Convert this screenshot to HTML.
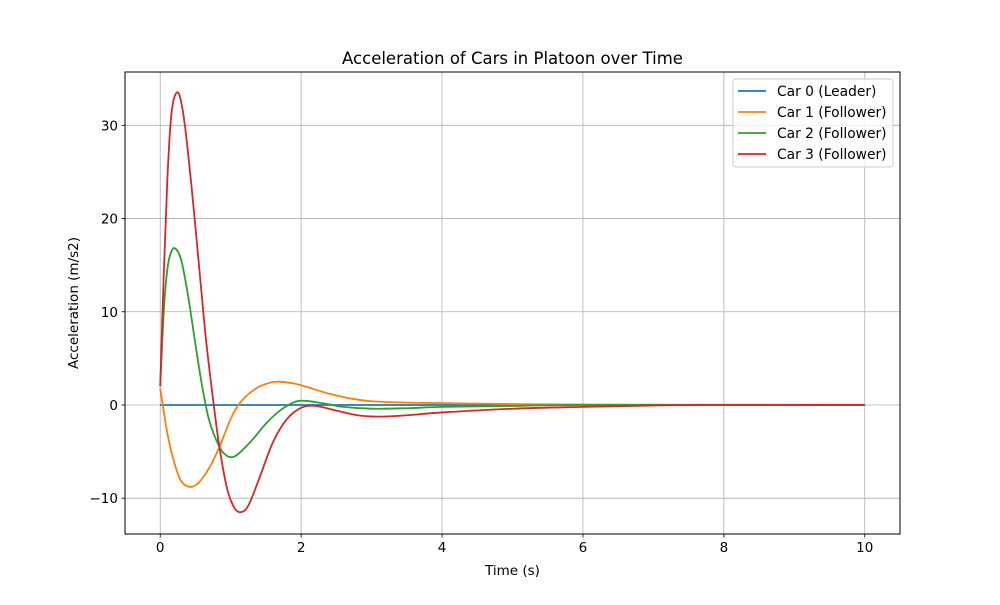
<!DOCTYPE html>
<html><head><meta charset="utf-8"><style>
body{margin:0;background:#fff;}
svg text{font-family:"DejaVu Sans","Liberation Sans",sans-serif;fill:#000;}
</style></head><body>
<svg id="chart" width="1000" height="600" xmlns="http://www.w3.org/2000/svg">
<rect width="1000" height="600" fill="#fff"/>
<g id="grid"></g>
<g id="series"></g>
<rect x="125" y="72" width="775" height="462" fill="none" stroke="#000" stroke-width="1"/>
<g id="ticks"></g>
<text x="512.5" y="64" font-size="16.5" text-anchor="middle">Acceleration of Cars in Platoon over Time</text>
<text x="512.5" y="575" font-size="13.5" text-anchor="middle">Time (s)</text>
<text x="0" y="0" font-size="13.5" text-anchor="middle" transform="translate(78,303) rotate(-90)">Acceleration (m/s2)</text>
<g id="legend">
<rect x="733" y="79" width="160" height="88" rx="3" fill="#fff" fill-opacity="0.8" stroke="#ccc"/>
</g>
</svg>
<script>
const xTicks=[0,2,4,6,8,10];
const yTicks=[-10,0,10,20,30];
const seriesNames=["Car 0 (Leader)","Car 1 (Follower)","Car 2 (Follower)","Car 3 (Follower)"];
const seriesColors=["#1f77b4","#ff7f0e","#2ca02c","#d62728"];
const car0T=[0,10];
const car0V=[0,0];
const car1T=[0,0.1,0.2,0.3,0.43,0.55,0.7,0.84,1.0,1.1,1.2,1.3,1.4,1.5,1.6,1.7,1.9,2.1,2.4,2.7,3.0,3.5,4,5,6,10];
const car1V=[1.8,-3,-6.2,-8.2,-8.8,-8.3,-6.7,-4.5,-1.5,-0.1,0.8,1.45,1.95,2.25,2.45,2.5,2.3,1.9,1.2,0.7,0.4,0.25,0.2,0.1,0.05,0];
const car2T=[0,0.05,0.1,0.15,0.21,0.3,0.4,0.5,0.6,0.7,0.84,0.92,1.0,1.1,1.3,1.5,1.7,1.9,2.05,2.3,2.6,3.0,3.5,4,5,6,10];
const car2V=[2,10,14.5,16.3,16.8,15.5,11.5,6.5,1.8,-1.8,-4.5,-5.3,-5.6,-5.3,-3.8,-2,-0.6,0.3,0.45,0.2,-0.2,-0.4,-0.35,-0.2,-0.1,0,0];
const car3T=[0,0.05,0.1,0.15,0.2,0.27,0.35,0.45,0.55,0.65,0.76,0.84,0.95,1.05,1.14,1.25,1.4,1.6,1.8,2.0,2.2,2.5,2.8,3.1,3.5,4,5,6,7,8,10];
const car3V=[2,14,24,30.5,33,33.3,30,23,15,7,0,-4.5,-9,-11,-11.5,-10.8,-8,-4,-1.5,-0.3,-0.1,-0.6,-1.1,-1.25,-1.1,-0.8,-0.4,-0.2,-0.05,0,0];
const allT=[car0T,car1T,car2T,car3T];
const allV=[car0V,car1V,car2V,car3V];
const NS="http://www.w3.org/2000/svg";
const X0=125,X1=900,Y0=72,Y1=534,xmin=-0.5,xmax=10.5,ymin=-13.84,ymax=35.72;
function sx(t){return X0+(t-xmin)/(xmax-xmin)*(X1-X0);}
function sy(v){return Y1-(v-ymin)/(ymax-ymin)*(Y1-Y0);}
function mk(tag,attrs,parent){const e=document.createElementNS(NS,tag);for(const k in attrs)e.setAttribute(k,attrs[k]);parent.appendChild(e);return e;}
const grid=document.getElementById('grid'),ticks=document.getElementById('ticks');
xTicks.forEach(t=>{
  const l=mk('line',{x1:sx(t),x2:sx(t),y1:Y0,y2:Y1,stroke:'#b0b0b0','stroke-width':0.8},grid);
  
  
  const m=mk('line',{x1:sx(t),x2:sx(t),y1:Y1,y2:Y1+3.5,stroke:'#000','stroke-width':0.8},ticks);
  
  
  const tx=mk('text',{x:sx(t),y:Y1+18,'font-size':13.5,'text-anchor':'middle'},ticks);
  tx.textContent=t;
  
  
});
yTicks.forEach(v=>{
  const l=mk('line',{x1:X0,x2:X1,y1:sy(v),y2:sy(v),stroke:'#b0b0b0','stroke-width':0.8},grid);
  
  
  const m=mk('line',{x1:X0-3.5,x2:X0,y1:sy(v),y2:sy(v),stroke:'#000','stroke-width':0.8},ticks);
  
  
  const tx=mk('text',{x:X0-7,y:sy(v)+5,'font-size':13.5,'text-anchor':'end'},ticks);
  tx.textContent=(v<0?'\u2212'+(-v):v);
  
  
});
function smoothPath(pts){
  let d='M'+pts[0][0]+','+pts[0][1];
  for(let i=0;i<pts.length-1;i++){
    const p0=pts[Math.max(0,i-1)],p1=pts[i],p2=pts[i+1],p3=pts[Math.min(pts.length-1,i+2)];
    const c1=[p1[0]+(p2[0]-p0[0])/6,p1[1]+(p2[1]-p0[1])/6];
    const c2=[p2[0]-(p3[0]-p1[0])/6,p2[1]-(p3[1]-p1[1])/6];
    d+=' C'+c1[0]+','+c1[1]+' '+c2[0]+','+c2[1]+' '+p2[0]+','+p2[1];
  }
  return d;
}
const sg=document.getElementById('series');
for(let s=0;s<4;s++){
  const pts=allT[s].map((t,i)=>[sx(t),sy(allV[s][i])]);
  const p=mk('path',{d:smoothPath(pts),fill:'none',stroke:seriesColors[s],'stroke-width':1.8},sg);
  
  
}
const lg=document.getElementById('legend');
for(let s=0;s<4;s++){
  const y=91+s*21;
  const l=mk('line',{x1:738,x2:766,y1:y,y2:y,stroke:seriesColors[s],'stroke-width':1.8},lg);
  
  
  const t=mk('text',{x:777,y:y+5,'font-size':13.8},lg);
  t.textContent=seriesNames[s];
  
  
}
</script>
</body></html>
